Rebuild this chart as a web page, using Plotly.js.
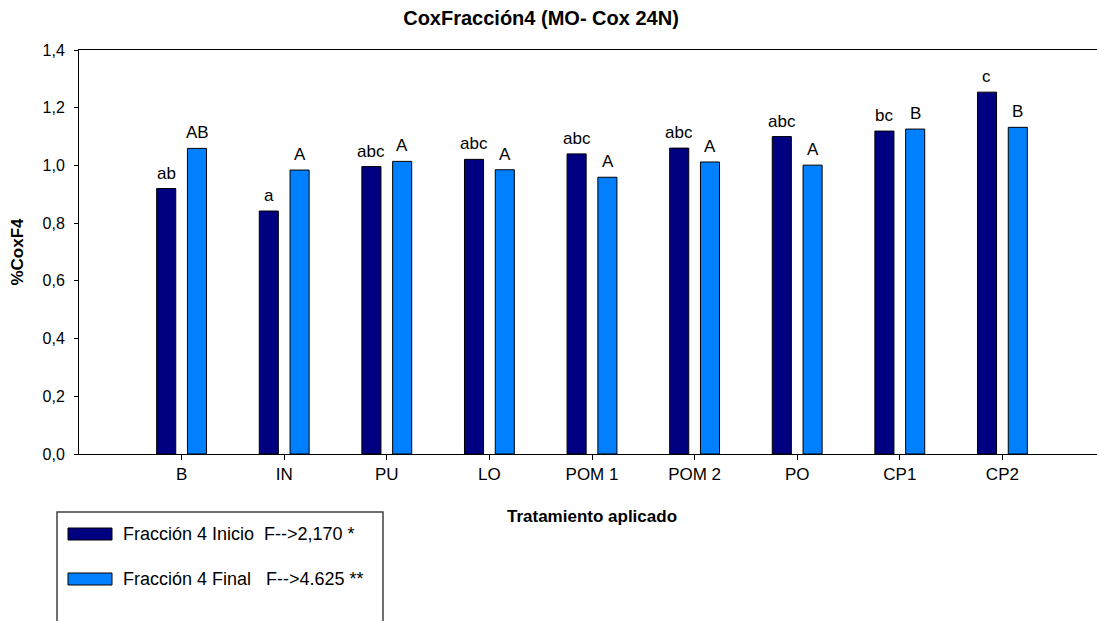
<!DOCTYPE html>
<html>
<head>
<meta charset="utf-8">
<script src="https://cdn.plot.ly/plotly-3.0.1.min.js"></script>
<style>
  html, body { margin: 0; padding: 0; overflow: hidden; background: #fff; }
  #chart { width: 1110px; height: 621px; }
</style>
</head>
<body>
<div id="chart"></div>
<script>
// ---- data ----
const categories = ['B', 'IN', 'PU', 'LO', 'POM 1', 'POM 2', 'PO', 'CP1', 'CP2'];
const inicioValues = [0.920, 0.842, 0.996, 1.021, 1.040, 1.060, 1.100, 1.119, 1.254];
const finalValues  = [1.059, 0.984, 1.014, 0.985, 0.959, 1.012, 1.001, 1.126, 1.132];
const inicioLetters = ['ab', 'a', 'abc', 'abc', 'abc', 'abc', 'abc', 'bc', 'c'];
const finalLetters  = ['AB', 'A', 'A', 'A', 'A', 'A', 'A', 'B', 'B'];
const seriesNames = ['Fracción 4 Inicio\u00A0\u00A0F-->2,170 *', 'Fracción 4 Final\u00A0\u00A0\u00A0F-->4.625 **'];
const yTickValues = [0, 0.2, 0.4, 0.6, 0.8, 1.0, 1.2, 1.4];

// ---- styling ----
const FONT = 'Liberation Sans, Arial, Helvetica, sans-serif';
const colors = ['#000080', '#0080FF'];
const W = 1110, H = 621;
const M = { l: 79, r: 5, t: 50, b: 167 };
const plotW = W - M.l - M.r, plotH = H - M.t - M.b;
const px2x = px => (px - M.l) / plotW;
const py2y = py => (H - M.b - py) / plotH;

const traces = [
  { type: 'bar', x: categories, y: inicioValues, name: seriesNames[0],
    marker: { color: colors[0], line: { color: '#000', width: 1 } }, hoverinfo: 'x+y' },
  { type: 'bar', x: categories, y: finalValues, name: seriesNames[1],
    marker: { color: colors[1], line: { color: '#000', width: 1 } }, hoverinfo: 'x+y' }
];

const annotations = [];
// significance letters above bars (placed at data coordinates)
const groupOffsets = [-15.5, 15.5];
[[inicioValues, inicioLetters], [finalValues, finalLetters]].forEach(([vals, letters], s) => {
  categories.forEach((c, i) => {
    annotations.push({ xref: 'x', yref: 'y', x: c, y: vals[i], text: letters[i],
      xshift: groupOffsets[s], yshift: 4, xanchor: 'center', yanchor: 'bottom', showarrow: false,
      font: { family: FONT, size: 17, color: '#000' } });
  });
});

// custom legend (box, swatches, labels)
const shapes = [
  { type: 'rect', xref: 'paper', yref: 'paper',
    x0: px2x(57), x1: px2x(383), y0: py2y(512), y1: py2y(680),
    line: { color: '#404040', width: 1.5 }, fillcolor: 'rgba(0,0,0,0)' }
];
const rowY = [534, 579];
seriesNames.forEach((nm, i) => {
  shapes.push({ type: 'rect', xref: 'paper', yref: 'paper',
    x0: px2x(68), x1: px2x(112), y0: py2y(rowY[i] - 6), y1: py2y(rowY[i] + 6),
    fillcolor: colors[i], line: { color: '#000', width: 1 } });
  annotations.push({ xref: 'paper', yref: 'paper', x: px2x(121), y: py2y(rowY[i]),
    xanchor: 'left', yanchor: 'middle', showarrow: false, text: nm,
    font: { family: FONT, size: 18, color: '#000' } });
});

const layout = {
  width: W, height: H,
  margin: M,
  paper_bgcolor: '#fff', plot_bgcolor: '#fff',
  separators: ',.',
  font: { family: FONT, size: 16, color: '#000' },
  title: { text: '<b>CoxFracción4 (MO- Cox 24N)</b>', font: { family: FONT, size: 20, color: '#000' },
           xref: 'container', x: 541 / W, xanchor: 'center', yref: 'container', y: 1 - 18 / H, yanchor: 'middle' },
  showlegend: false,
  barmode: 'group', bargap: 0.4, bargroupgap: 0.38,
  xaxis: {
    type: 'category', range: [-1, 9],
    showline: true, mirror: true, linecolor: '#000', linewidth: 1,
    ticks: 'outside', ticklen: 5, tickcolor: '#000', showgrid: false, zeroline: false,
    tickfont: { family: FONT, size: 17, color: '#000' },
    title: { text: '<b>Tratamiento aplicado</b>', font: { family: FONT, size: 17, color: '#000' }, standoff: 26 }
  },
  yaxis: {
    range: [0, 1.4], tickvals: yTickValues, tickformat: '.1f',
    showline: true, mirror: true, linecolor: '#000', linewidth: 1,
    ticks: 'outside', ticklen: 4, tickcolor: '#000', showgrid: false, zeroline: false,
    ticklabelstandoff: 6,
    tickfont: { family: FONT, size: 16, color: '#000' },
    title: { text: '<b>%CoxF4</b>', font: { family: FONT, size: 17, color: '#000' }, standoff: 14 }
  },
  shapes: shapes,
  annotations: annotations
};

Plotly.newPlot('chart', traces, layout, { displayModeBar: false, staticPlot: true });
</script>
</body>
</html>
